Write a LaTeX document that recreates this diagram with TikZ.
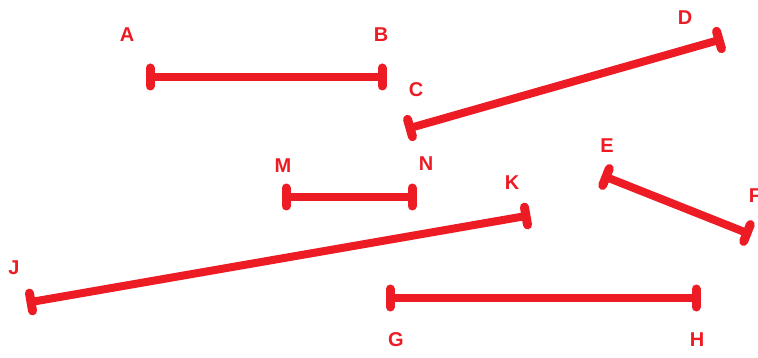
\documentclass[tikz,border=0pt]{standalone}
\usepackage{fontspec}
\setmainfont{Liberation Sans}
\usetikzlibrary{arrows.meta}
\definecolor{paintred}{HTML}{ED1C24}
\begin{document}
\begin{tikzpicture}[x=1pt,y=-1pt,
  seg/.style={paintred, line width=8pt, shorten <=-4.5pt, shorten >=-4.5pt,
    {Bar[width=18pt,line width=9pt,round]}-{Bar[width=18pt,line width=9pt,round]}},
  lbl/.style={text=paintred, font=\bfseries\fontsize{20}{20}\selectfont, inner sep=0pt}]
\useasboundingbox (0,0) rectangle (758,358);

% end points
\coordinate (a) at (150,77);
\coordinate (b) at (382,77);
\coordinate (c) at (410,128);
\coordinate (d) at (719,40);
\coordinate (m) at (286,197);
\coordinate (n) at (412,197);
\coordinate (e) at (606,177);
\coordinate (f) at (747,233);
\coordinate (j) at (31,302);
\coordinate (k) at (526,216);
\coordinate (g) at (390,298);
\coordinate (h) at (696,298);

% labels
\node[lbl] (A) at (127,35) {A};
\node[lbl] (B) at (381,35) {B};
\node[lbl] (C) at (416,90) {C};
\node[lbl] (D) at (685,18) {D};
\node[lbl] (M) at (283,166) {M};
\node[lbl] (N) at (426,164) {N};
\node[lbl] (E) at (607,146) {E};
\node[lbl] (F) at (755,196) {F};
\node[lbl] (K) at (512,183) {K};
\node[lbl] (J) at (14,268) {J};
\node[lbl] (G) at (396,340) {G};
\node[lbl] (H) at (697,340) {H};

\draw[seg] (a) -- (b);
\draw[seg] (c) -- (d);
\draw[seg] (m) -- (n);
\draw[seg] (e) -- (f);
\draw[seg] (j) -- (k);
\draw[seg] (g) -- (h);

\end{tikzpicture}
\end{document}
